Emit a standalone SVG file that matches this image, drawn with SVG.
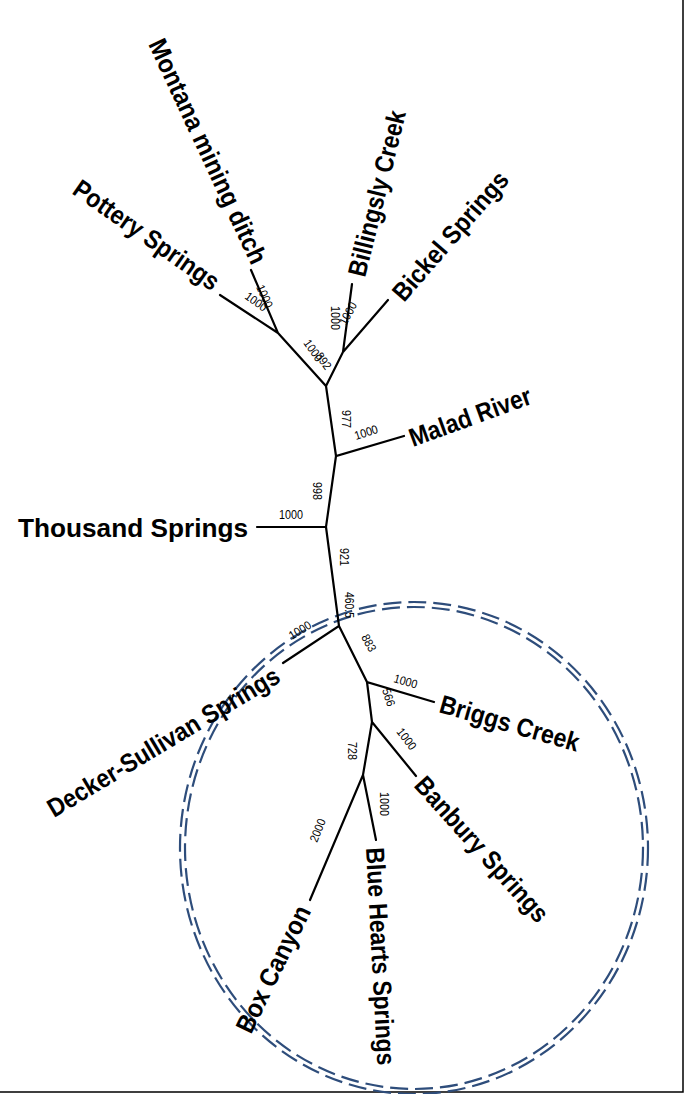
<svg xmlns="http://www.w3.org/2000/svg" width="685" height="1094" viewBox="0 0 685 1094">
<style>
.b{stroke:#000;stroke-width:2.2;fill:none;stroke-linecap:round}
.t{font-family:"Liberation Sans",Arial,sans-serif;font-weight:bold;font-size:26px;fill:#000}
.s{font-family:"Liberation Sans",Arial,sans-serif;font-size:12px;fill:#000}
.e{fill:none;stroke:#2e4d7b;stroke-width:2.2;stroke-dasharray:18 7}
</style>
<rect width="685" height="1094" fill="#fff"/>
<path d="M683 0V1092H0" stroke="#000" stroke-width="1.5" fill="none"/>
<g id="circle">
<ellipse class="e" cx="414" cy="848" rx="229" ry="241"/>
<ellipse class="e" cx="414" cy="848" rx="234" ry="246"/>
</g>
<g id="connectors">
<path class="b" d="M251 270L278 333L220 295M278 333L326 386L343 352L352 284M343 352L388 300M326 386L336 456L404 436M336 456L326 527L257 527M326 527L339 626L283 663M339 626L367 682L434 702M367 682L372 722L416 776M372 722L363 775L310 900M363 775L376 840"/>
</g>
<g id="labels" class="s">
<text transform="translate(256,287) rotate(66)" textLength="24" lengthAdjust="spacingAndGlyphs">1000</text>
<text transform="translate(244,298) rotate(36)" textLength="24" lengthAdjust="spacingAndGlyphs">1000</text>
<text transform="translate(303,343) rotate(55)" textLength="24" lengthAdjust="spacingAndGlyphs">1000</text>
<text transform="translate(315,356) rotate(55)" textLength="18" lengthAdjust="spacingAndGlyphs">892</text>
<text transform="translate(331,306) rotate(90)" textLength="24" lengthAdjust="spacingAndGlyphs">1000</text>
<text transform="translate(346,326) rotate(-62)" textLength="24" lengthAdjust="spacingAndGlyphs">1000</text>
<text transform="translate(342,410) rotate(90)" textLength="18" lengthAdjust="spacingAndGlyphs">977</text>
<text transform="translate(356,440) rotate(-18)" textLength="24" lengthAdjust="spacingAndGlyphs">1000</text>
<text transform="translate(313,482) rotate(90)" textLength="18" lengthAdjust="spacingAndGlyphs">998</text>
<text x="279" y="519" textLength="24" lengthAdjust="spacingAndGlyphs">1000</text>
<text transform="translate(340,548) rotate(90)" textLength="18" lengthAdjust="spacingAndGlyphs">921</text>
<text transform="translate(345,592) rotate(90)" textLength="26" lengthAdjust="spacingAndGlyphs">460.5</text>
<text transform="translate(361,637) rotate(62)" textLength="18" lengthAdjust="spacingAndGlyphs">883</text>
<text transform="translate(292,640) rotate(-32)" textLength="24" lengthAdjust="spacingAndGlyphs">1000</text>
<text transform="translate(393,682) rotate(16)" textLength="24" lengthAdjust="spacingAndGlyphs">1000</text>
<text transform="translate(382,690) rotate(72)" textLength="18" lengthAdjust="spacingAndGlyphs">566</text>
<text transform="translate(396,732) rotate(52)" textLength="24" lengthAdjust="spacingAndGlyphs">1000</text>
<text transform="translate(348,742) rotate(90)" textLength="18" lengthAdjust="spacingAndGlyphs">728</text>
<text transform="translate(317,843) rotate(-68)" textLength="24" lengthAdjust="spacingAndGlyphs">2000</text>
<text transform="translate(380,792) rotate(90)" textLength="24" lengthAdjust="spacingAndGlyphs">1000</text>
</g>
<g id="Montana"><text class="t" transform="translate(148,44) rotate(65)" textLength="245" lengthAdjust="spacingAndGlyphs">Montana mining ditch</text></g>
<g id="Pottery"><text class="t" transform="translate(71,193) rotate(35)" textLength="172" lengthAdjust="spacingAndGlyphs">Pottery Springs</text></g>
<g id="Billingsly"><text class="t" transform="translate(365,278) rotate(-76)" textLength="170" lengthAdjust="spacingAndGlyphs">Billingsly Creek</text></g>
<g id="Bickel"><text class="t" transform="translate(404,303) rotate(-49)" textLength="162" lengthAdjust="spacingAndGlyphs">Bickel Springs</text></g>
<g id="Malad"><text class="t" transform="translate(413,447) rotate(-20)" textLength="128" lengthAdjust="spacingAndGlyphs">Malad River</text></g>
<g id="Thousand"><text class="t" x="18" y="537" textLength="230" lengthAdjust="spacingAndGlyphs">Thousand Springs</text></g>
<g id="Decker"><text class="t" transform="translate(54,818) rotate(-31)" textLength="266" lengthAdjust="spacingAndGlyphs">Decker-Sullivan Springs</text></g>
<g id="Briggs"><text class="t" transform="translate(438,712) rotate(16)" textLength="144" lengthAdjust="spacingAndGlyphs">Briggs Creek</text></g>
<g id="Banbury"><text class="t" transform="translate(413,786) rotate(48)" textLength="186" lengthAdjust="spacingAndGlyphs">Banbury Springs</text></g>
<g id="Blue"><text class="t" transform="translate(366,848) rotate(87)" textLength="218" lengthAdjust="spacingAndGlyphs">Blue Hearts Springs</text></g>
<g id="Box"><text class="t" transform="translate(251,1035) rotate(-64)" textLength="138" lengthAdjust="spacingAndGlyphs">Box Canyon</text></g>
</svg>
